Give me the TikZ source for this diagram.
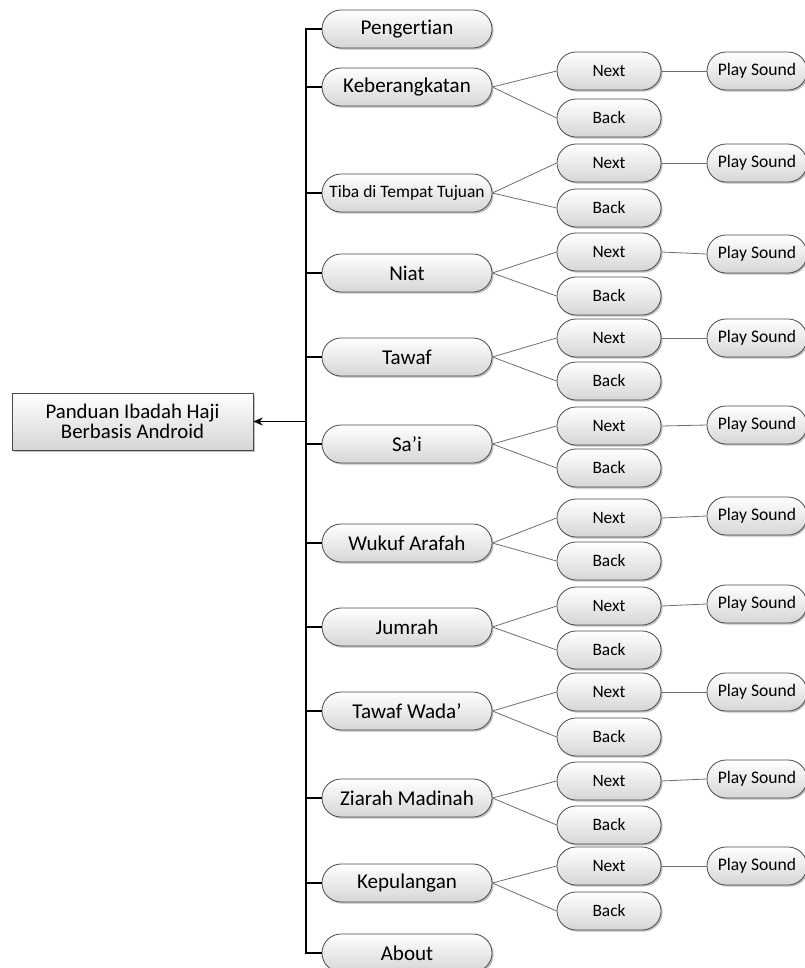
\documentclass[tikz,border=0pt]{standalone}
\usepackage{fontspec}
\setmainfont{Carlito}[Ligatures=NoCommon]
\usetikzlibrary{shadows,arrows.meta}
\definecolor{bord}{HTML}{4A4A4A}
\definecolor{conn}{HTML}{6E6E6E}
\definecolor{shadeb}{HTML}{D6D6D6}
\begin{document}
\begin{tikzpicture}[x=0.75pt,y=-0.75pt,
  boxbase/.style={draw=bord, line width=0.6pt, top color=white, bottom color=shadeb,
    drop shadow={shadow xshift=1.2pt, shadow yshift=-1.2pt, opacity=0.25, fill=black},
    inner sep=1pt, align=center},
  lvlone/.style={boxbase, minimum width=127.5pt, minimum height=28.5pt, rounded corners=14.25pt, font=\fontsize{15.8}{17}\selectfont},
  subbox/.style={boxbase, minimum width=78pt, minimum height=28.5pt, rounded corners=14.25pt, font=\fontsize{13}{14}\selectfont},
  playbox/.style={boxbase, minimum width=75pt, minimum height=28.5pt, rounded corners=14.25pt, font=\fontsize{13.2}{14}\selectfont},
  rootbox/.style={boxbase, minimum width=180.75pt, minimum height=42.75pt, font=\fontsize{15.6}{15.5}\selectfont},
  trunkline/.style={draw=black, line width=0.8pt},
  subline/.style={draw=conn, line width=0.6pt}]
\useasboundingbox (0,0) rectangle (805,968);

\node[rootbox] (root) at (132.5,421.5) {Panduan Ibadah Haji\\Berbasis Android};

\node[lvlone] (pe) at (407,29) {Pengertian};
\node[lvlone] (ab) at (407,953) {About};

\foreach \i/\y/\yn/\yb/\yp/\t in {
  1/87/71/118/71/Keberangkatan,
  2/193/163/208/163/{\fontsize{13.1}{14}\selectfont Tiba di Tempat Tujuan},
  3/273/252/296/254/Niat,
  4/357/338/381/338/Tawaf,
  5/444/426/468/425/Sa’i,
  6/543/518/561/516/Wukuf Arafah,
  7/627/606/650/604/Jumrah,
  8/711/692/737/692/Tawaf Wada’,
  9/798/781/825/779/Ziarah Madinah,
  10/883/866/911/866/Kepulangan}{
  \node[lvlone] (k\i) at (407,\y) {\t};
  \node[subbox] (n\i) at (609,\yn) {Next};
  \node[subbox] (b\i) at (609,\yb) {Back};
  \node[playbox] (s\i) at (757,\yp) {Play Sound};
  \draw[subline] (k\i.east) -- (n\i.west);
  \draw[subline] (k\i.east) -- (b\i.west);
  \draw[subline] (n\i.east) -- (s\i.west);
}

\coordinate (tj) at (306,421.5);
\draw[trunkline] (pe.west) -| (tj) |- (ab.west);
\foreach \i in {1,...,10}{
  \draw[trunkline] (k\i.west) -- (k\i.west -| tj);
}
\draw[trunkline, -{Stealth[length=7pt,width=6pt]}] (tj) -- (root.east);
\end{tikzpicture}
\end{document}
